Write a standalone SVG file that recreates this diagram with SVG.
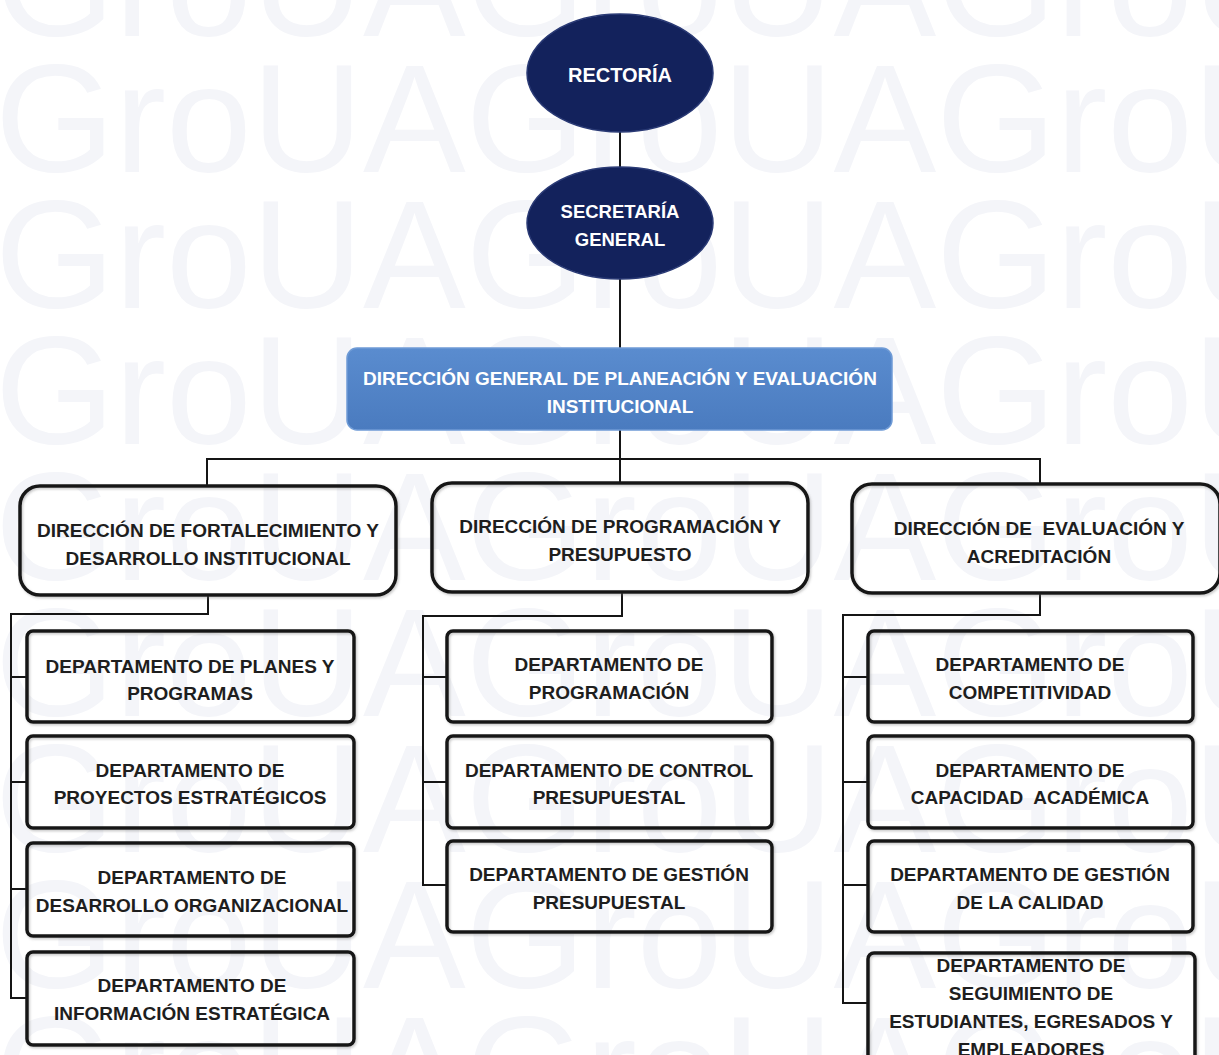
<svg xmlns="http://www.w3.org/2000/svg" width="1219" height="1055" viewBox="0 0 1219 1055">
<style>
.wm{font-family:"Liberation Sans",Arial,sans-serif;font-size:154px;fill:#f4f5f9}
.ell{fill:#13225c;stroke:#2a3a75;stroke-width:1.5}
.wt{font-family:"Liberation Sans",Arial,sans-serif;font-weight:bold;fill:#ffffff;text-anchor:middle}
.bt{font-family:"Liberation Sans",Arial,sans-serif;font-weight:bold;font-size:19px;fill:#1e1e1e;text-anchor:middle;white-space:pre}
.dir{fill:none;stroke:#151515;stroke-width:3.5}
.dep{fill:none;stroke:#151515;stroke-width:3.5}
.con{fill:none;stroke:#151515;stroke-width:2}
</style>
<defs>
<linearGradient id="gblue" x1="0" y1="0" x2="0" y2="1">
<stop offset="0" stop-color="#5a8ccf"/>
<stop offset="1" stop-color="#4a7bbf"/>
</linearGradient>
<filter id="sh" x="-5%" y="-5%" width="110%" height="115%">
<feDropShadow dx="1.2" dy="1.5" stdDeviation="0.8" flood-color="#777777" flood-opacity="0.4"/>
</filter>
</defs>
<rect width="1219" height="1055" fill="#ffffff"/>
<g id="watermark">
<text class="wm" x="-5" y="36">GroUAGroUAGroUAGro</text>
<text class="wm" x="-5" y="172">GroUAGroUAGroUAGro</text>
<text class="wm" x="-5" y="308">GroUAGroUAGroUAGro</text>
<text class="wm" x="-5" y="444">GroUAGroUAGroUAGro</text>
<text class="wm" x="-5" y="580">GroUAGroUAGroUAGro</text>
<text class="wm" x="-5" y="716">GroUAGroUAGroUAGro</text>
<text class="wm" x="-5" y="852">GroUAGroUAGroUAGro</text>
<text class="wm" x="-5" y="988">GroUAGroUAGroUAGro</text>
<text class="wm" x="-5" y="1124">GroUAGroUAGroUAGro</text>
</g>
<g id="connectors">
<line class="con" x1="620" y1="132" x2="620" y2="168"/>
<line class="con" x1="620" y1="278" x2="620" y2="349"/>
<line class="con" x1="620" y1="430" x2="620" y2="483"/>
<polyline class="con" points="207,486 207,459 1040,459 1040,484"/>
<polyline class="con" points="208,595 208,614 11,614 11,998 27,998"/>
<line class="con" x1="11" y1="677" x2="27" y2="677"/>
<line class="con" x1="11" y1="782" x2="27" y2="782"/>
<line class="con" x1="11" y1="889" x2="27" y2="889"/>
<polyline class="con" points="622,592 622,616 423,616 423,885 447,885"/>
<line class="con" x1="423" y1="677" x2="447" y2="677"/>
<line class="con" x1="423" y1="782" x2="447" y2="782"/>
<polyline class="con" points="1040,593 1040,615 843,615 843,1003 867,1003"/>
<line class="con" x1="843" y1="677" x2="867" y2="677"/>
<line class="con" x1="843" y1="782" x2="867" y2="782"/>
<line class="con" x1="843" y1="885" x2="867" y2="885"/>
</g>
<g id="rectoria">
<ellipse class="ell" cx="620" cy="73" rx="93" ry="59"/>
<text class="wt" x="620" y="82" font-size="20">RECTORÍA</text>
</g>
<g id="secretaria-general">
<ellipse class="ell" cx="620" cy="223" rx="93" ry="56"/>
<text class="wt" x="620" y="218" font-size="18.5">SECRETARÍA</text>
<text class="wt" x="620" y="246" font-size="18.5">GENERAL</text>
</g>
<g id="direccion-general">
<rect x="347" y="348" width="545" height="82" rx="10" fill="url(#gblue)" stroke="#6f9bd6" stroke-width="1.5"/>
<text class="wt" x="620" y="385" font-size="19">DIRECCIÓN GENERAL DE PLANEACIÓN Y EVALUACIÓN</text>
<text class="wt" x="620" y="413" font-size="19">INSTITUCIONAL</text>
</g>
<g id="dir-fortalecimiento">
<rect class="dir" x="20" y="486" width="376" height="109" rx="20" filter="url(#sh)"/>
<text class="bt" x="208" y="537">DIRECCIÓN DE FORTALECIMIENTO Y</text>
<text class="bt" x="208" y="565">DESARROLLO INSTITUCIONAL</text>
</g>
<g id="dir-programacion">
<rect class="dir" x="432" y="483" width="376" height="109" rx="20" filter="url(#sh)"/>
<text class="bt" x="620" y="533">DIRECCIÓN DE PROGRAMACIÓN Y</text>
<text class="bt" x="620" y="561">PRESUPUESTO</text>
</g>
<g id="dir-evaluacion">
<rect class="dir" x="852" y="484" width="368" height="109" rx="20" filter="url(#sh)"/>
<text class="bt" x="1039" y="535">DIRECCIÓN DE  EVALUACIÓN Y</text>
<text class="bt" x="1039" y="563">ACREDITACIÓN</text>
</g>
<g id="dep-planes">
<rect class="dep" x="27" y="631" width="327" height="91" rx="6" filter="url(#sh)"/>
<text class="bt" x="190" y="673">DEPARTAMENTO DE PLANES Y</text>
<text class="bt" x="190" y="700">PROGRAMAS</text>
</g>
<g id="dep-proyectos">
<rect class="dep" x="27" y="736" width="327" height="92" rx="6" filter="url(#sh)"/>
<text class="bt" x="190" y="777">DEPARTAMENTO DE</text>
<text class="bt" x="190" y="804">PROYECTOS ESTRATÉGICOS</text>
</g>
<g id="dep-desarrollo">
<rect class="dep" x="27" y="843" width="327" height="93" rx="6" filter="url(#sh)"/>
<text class="bt" x="192" y="884">DEPARTAMENTO DE</text>
<text class="bt" x="192" y="912">DESARROLLO ORGANIZACIONAL</text>
</g>
<g id="dep-informacion">
<rect class="dep" x="27" y="952" width="327" height="93" rx="6" filter="url(#sh)"/>
<text class="bt" x="192" y="992">DEPARTAMENTO DE</text>
<text class="bt" x="192" y="1020">INFORMACIÓN ESTRATÉGICA</text>
</g>
<g id="dep-programacion">
<rect class="dep" x="447" y="631" width="325" height="91" rx="6" filter="url(#sh)"/>
<text class="bt" x="609" y="671">DEPARTAMENTO DE</text>
<text class="bt" x="609" y="699">PROGRAMACIÓN</text>
</g>
<g id="dep-control">
<rect class="dep" x="447" y="736" width="325" height="92" rx="6" filter="url(#sh)"/>
<text class="bt" x="609" y="777">DEPARTAMENTO DE CONTROL</text>
<text class="bt" x="609" y="804">PRESUPUESTAL</text>
</g>
<g id="dep-gestion-presupuestal">
<rect class="dep" x="447" y="841" width="325" height="91" rx="6" filter="url(#sh)"/>
<text class="bt" x="609" y="881">DEPARTAMENTO DE GESTIÓN</text>
<text class="bt" x="609" y="909">PRESUPUESTAL</text>
</g>
<g id="dep-competitividad">
<rect class="dep" x="868" y="631" width="325" height="91" rx="6" filter="url(#sh)"/>
<text class="bt" x="1030" y="671">DEPARTAMENTO DE</text>
<text class="bt" x="1030" y="699">COMPETITIVIDAD</text>
</g>
<g id="dep-capacidad">
<rect class="dep" x="868" y="736" width="325" height="92" rx="6" filter="url(#sh)"/>
<text class="bt" x="1030" y="777">DEPARTAMENTO DE</text>
<text class="bt" x="1030" y="804">CAPACIDAD  ACADÉMICA</text>
</g>
<g id="dep-calidad">
<rect class="dep" x="868" y="841" width="325" height="91" rx="6" filter="url(#sh)"/>
<text class="bt" x="1030" y="881">DEPARTAMENTO DE GESTIÓN</text>
<text class="bt" x="1030" y="909">DE LA CALIDAD</text>
</g>
<g id="dep-seguimiento">
<rect class="dep" x="868" y="953" width="327" height="115" rx="6" filter="url(#sh)"/>
<text class="bt" x="1031" y="972">DEPARTAMENTO DE</text>
<text class="bt" x="1031" y="1000">SEGUIMIENTO DE</text>
<text class="bt" x="1031" y="1028">ESTUDIANTES, EGRESADOS Y</text>
<text class="bt" x="1031" y="1056">EMPLEADORES</text>
</g>
</svg>
